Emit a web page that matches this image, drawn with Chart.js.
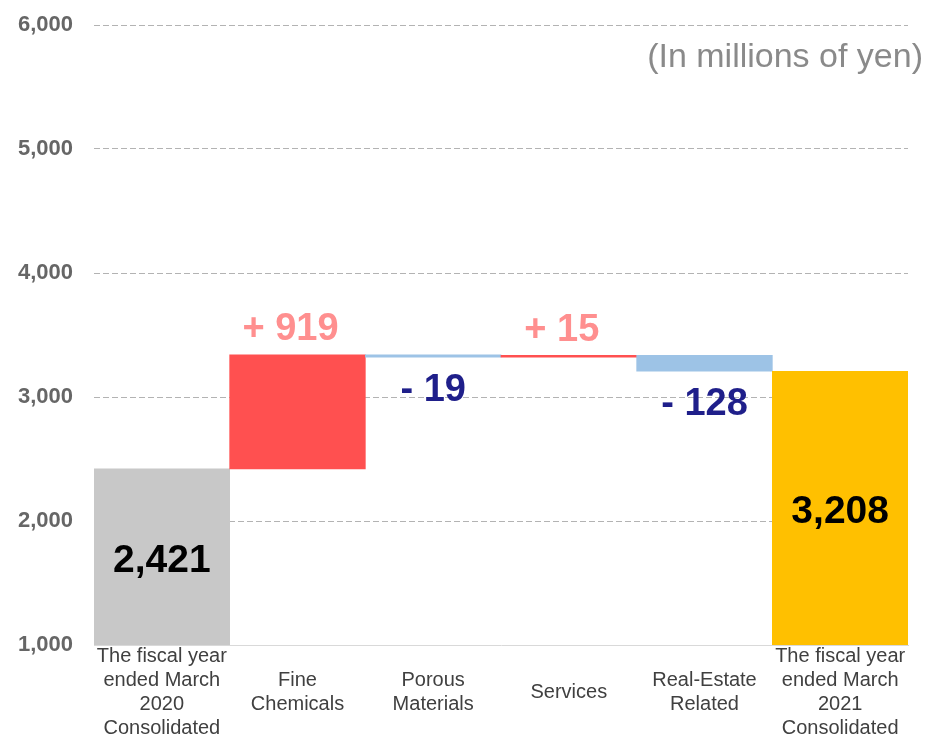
<!DOCTYPE html>
<html lang="en">
<head>
<meta charset="UTF-8">
<title>Operating income by segment</title>
<script src="https://cdn.jsdelivr.net/npm/chart.js@4.4.1/dist/chart.umd.min.js"></script>
<style>
  body { margin: 0; background: #fff; }
  #chart { display: block; }
</style>
</head>
<body>
<canvas id="chart" width="928" height="741"></canvas>
<script>
const categories = [
  ['The fiscal year', 'ended March', '2020', 'Consolidated'],
  ['Fine', 'Chemicals'],
  ['Porous', 'Materials'],
  ['Services'],
  ['Real-Estate', 'Related'],
  ['The fiscal year', 'ended March', '2021', 'Consolidated']
];
// first and last are totals, the ones between are changes
const amounts = [2421, 919, -19, 15, -128, 3208];
const isTotal = [true, false, false, false, false, true];
const barColors = ['#c8c8c8', '#ff5050', '#9dc3e6', '#ff5050', '#9dc3e6', '#ffc000'];
const yTicks = [1000, 2000, 3000, 4000, 5000, 6000];
const unitNote = '(In millions of yen)';

const FONT = '"Liberation Sans", Arial, sans-serif';

// waterfall: each change floats from the running total
let running = 0;
const ranges = amounts.map((v, i) => {
  if (isTotal[i]) { running = v; return [yTicks[0], v]; }
  const r = [running, running + v];
  running += v;
  return r;
});

const barLabels = {
  id: 'barLabels',
  afterDatasetsDraw(chart) {
    const ctx = chart.ctx;
    const meta = chart.getDatasetMeta(0);
    ctx.save();
    ctx.textAlign = 'center';
    ctx.textBaseline = 'middle';
    meta.data.forEach((bar, i) => {
      const { x, y, base } = bar.getProps(['x', 'y', 'base'], true);
      const top = Math.min(y, base), bottom = Math.max(y, base);
      const v = amounts[i];
      if (isTotal[i]) {
        ctx.font = 'bold 39px ' + FONT;
        ctx.fillStyle = '#000';
        ctx.fillText(v.toLocaleString('en-US'), x, (top + bottom) / 2 + 4);
      } else if (v > 0) {
        ctx.font = 'bold 38px ' + FONT;
        ctx.fillStyle = '#ff8f8f';
        ctx.fillText('+ ' + v, x - 7, top - 25);
      } else {
        ctx.font = 'bold 38px ' + FONT;
        ctx.fillStyle = '#1f1f8a';
        ctx.fillText('- ' + Math.abs(v), x, bottom + 33);
      }
    });
    ctx.font = '34px ' + FONT;
    ctx.fillStyle = '#8a8a8a';
    ctx.textAlign = 'right';
    ctx.fillText(unitNote, chart.width - 5, 58);
    ctx.restore();
  }
};

new Chart(document.getElementById('chart'), {
  type: 'bar',
  data: {
    labels: categories,
    datasets: [{
      data: ranges,
      backgroundColor: barColors,
      borderWidth: 0,
      borderSkipped: false,
      categoryPercentage: 1,
      barPercentage: 1
    }]
  },
  options: {
    responsive: false,
    animation: false,
    layout: { padding: { top: 25, right: 20, left: 0, bottom: 0 } },
    plugins: { legend: { display: false }, tooltip: { enabled: false } },
    scales: {
      x: {
        grid: { display: false },
        border: { display: true, color: '#d9d9d9', width: 1 },
        ticks: {
          color: '#404040',
          font: { family: FONT, size: 20, lineHeight: 1.2 },
          maxRotation: 0,
          autoSkip: false,
          crossAlign: 'center',
          padding: 3
        },
        afterFit(scale) { scale.height = 96; }
      },
      y: {
        min: yTicks[0],
        max: yTicks[yTicks.length - 1],
        afterBuildTicks(scale) { scale.ticks = yTicks.map(v => ({ value: v })); },
        grid: {
          drawTicks: false,
          color: c => (c.tick && c.tick.value === yTicks[0]) ? 'rgba(0,0,0,0)' : '#b3b3b3',
          lineWidth: 1
        },
        border: { display: false, dash: [6, 3] },
        ticks: {
          color: '#666',
          // small line height keeps the top label from pushing the plot down
          font: { family: FONT, size: 22, weight: 'bold', lineHeight: 0.3 },
          padding: 21,
          callback: v => v.toLocaleString('en-US')
        },
        afterFit(scale) { scale.width = 94; }
      }
    }
  },
  plugins: [barLabels]
});
</script>
</body>
</html>
